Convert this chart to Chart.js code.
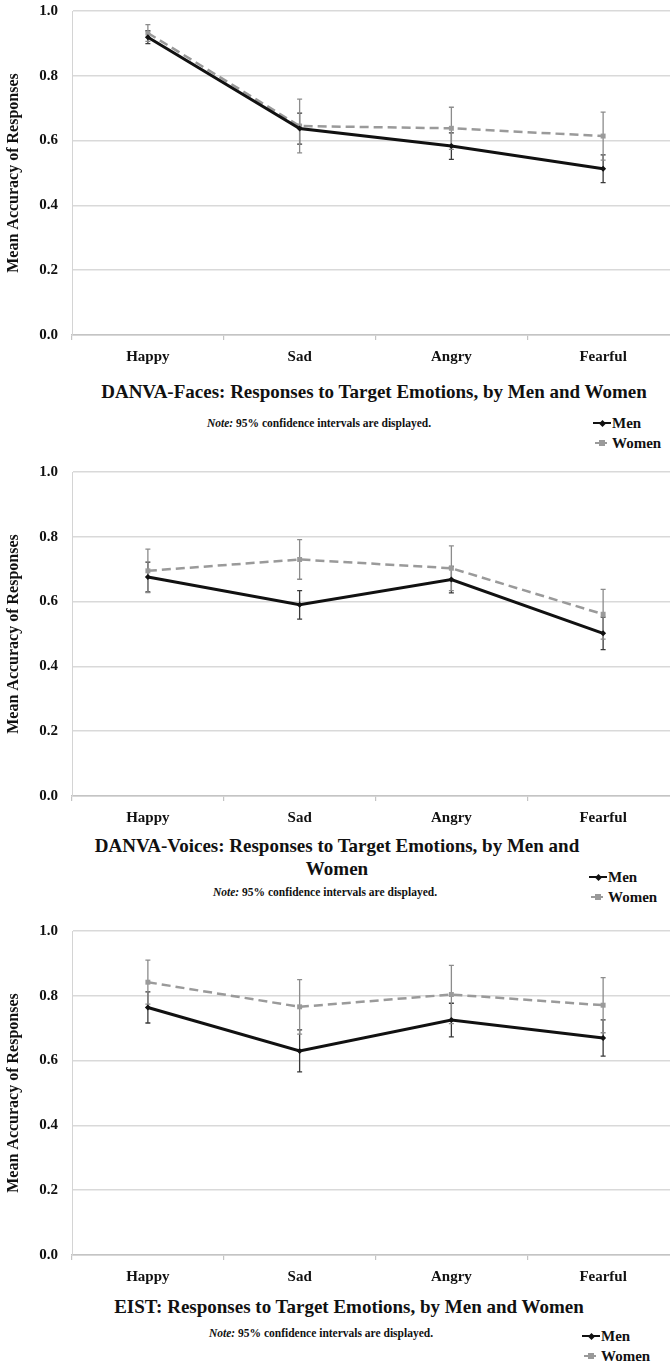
<!DOCTYPE html>
<html>
<head>
<meta charset="utf-8">
<script src="https://cdn.jsdelivr.net/npm/chart.js@4.4.1/dist/chart.umd.min.js"></script>
<style>
  html, body { margin: 0; padding: 0; background: #fff; }
  body { width: 670px; height: 1363px; overflow: hidden; position: relative;
         font-family: 'Liberation Serif', 'Times New Roman', serif; color: #111; }
  .panel { position: absolute; left: 0; width: 670px; height: 460px; overflow: hidden; }
  .panel canvas { position: absolute; left: 0; top: 0; }
  .title { position: absolute; font-weight: bold; font-size: 19px; line-height: 23px; text-align: center; }
  .note { position: absolute; font-weight: bold; font-size: 11.5px; line-height: 14px; white-space: nowrap; }
  .note i { font-style: italic; }
  .legend { position: absolute; font-weight: bold; font-size: 15px; line-height: 20px; }
  .legend .row { position: relative; height: 20px; padding-left: 19px; white-space: nowrap; }
  .legend .line { position: absolute; left: 0; top: 9px; width: 18px; height: 0; border-top-style: solid; }
  .legend .mark { position: absolute; }
</style>
</head>
<body>

<div class="panel" id="p1" style="top:0px;">
  <canvas id="c1" width="683" height="370"></canvas>
  <div class="title" style="left:74px; top:380px; width:600px;">DANVA-Faces: Responses to Target Emotions, by Men and Women</div>
  <div class="note" style="left:207px; top:416px;"><i>Note:</i> 95% confidence intervals are displayed.</div>
  <div class="legend" id="l1" style="left:593px; top:413px;"></div>
</div>

<div class="panel" id="p2" style="top:461px;">
  <canvas id="c2" width="683" height="370"></canvas>
  <div class="title" style="left:87px; top:373px; width:500px;">DANVA-Voices: Responses to Target Emotions, by Men and Women</div>
  <div class="note" style="left:213px; top:424px;"><i>Note:</i> 95% confidence intervals are displayed.</div>
  <div class="legend" id="l2" style="left:589px; top:406px;"></div>
</div>

<div class="panel" id="p3" style="top:920px; height:443px;">
  <canvas id="c3" width="683" height="370"></canvas>
  <div class="title" style="left:69px; top:375px; width:560px;">EIST: Responses to Target Emotions, by Men and Women</div>
  <div class="note" style="left:209px; top:406px;"><i>Note:</i> 95% confidence intervals are displayed.</div>
  <div class="legend" id="l3" style="left:582px; top:406px;"></div>
</div>

<script>
// Target emotions shown on every x axis
const categories = ['Happy', 'Sad', 'Angry', 'Fearful'];
const yTickValues = [0.0, 0.2, 0.4, 0.6, 0.8, 1.0];
const seriesNames = ['Men', 'Women'];

// DANVA-Faces: mean accuracy and 95% CI half-widths
const facesMen = [0.919, 0.637, 0.583, 0.513];
const facesMenCI = [0.020, 0.048, 0.041, 0.043];
const facesWomen = [0.932, 0.645, 0.638, 0.614];
const facesWomenCI = [0.026, 0.083, 0.065, 0.074];

// DANVA-Voices
const voicesMen = [0.676, 0.590, 0.668, 0.502];
const voicesMenCI = [0.046, 0.044, 0.041, 0.050];
const voicesWomen = [0.695, 0.730, 0.703, 0.561];
const voicesWomenCI = [0.067, 0.061, 0.069, 0.077];

// EIST
const eistMen = [0.764, 0.630, 0.725, 0.670];
const eistMenCI = [0.048, 0.065, 0.052, 0.056];
const eistWomen = [0.842, 0.766, 0.804, 0.771];
const eistWomenCI = [0.068, 0.084, 0.090, 0.085];

const serif = "'Liberation Serif', 'Times New Roman', serif";

// Draws the confidence-interval whiskers for each dataset using the chart scales
const errorBars = {
  id: 'errorBars',
  beforeDatasetsDraw(chart) {
    const { ctx, scales: { x, y } } = chart;
    ctx.save();
    chart.data.datasets.forEach((ds) => {
      if (!ds.ci) return;
      ctx.strokeStyle = ds.errorColor;
      ctx.lineWidth = 1.3;
      ds.data.forEach((v, i) => {
        const px = x.getPixelForValue(i);
        const top = y.getPixelForValue(v + ds.ci[i]);
        const bot = y.getPixelForValue(v - ds.ci[i]);
        ctx.beginPath();
        ctx.moveTo(px, top); ctx.lineTo(px, bot);
        ctx.moveTo(px - 2.5, top); ctx.lineTo(px + 2.5, top);
        ctx.moveTo(px - 2.5, bot); ctx.lineTo(px + 2.5, bot);
        ctx.stroke();
      });
    });
    ctx.restore();
  }
};

// Keep the plot box at fixed offsets: no extra room reserved for edge labels
function noEdgePadding(scale) {
  scale.paddingTop = 0;
  scale.paddingBottom = 0;
  scale.paddingLeft = 0;
  scale.paddingRight = 0;
}

function makeChart(canvasId, men, menCI, women, womenCI) {
  return new Chart(document.getElementById(canvasId), {
    type: 'line',
    data: {
      labels: categories,
      datasets: [
        { label: seriesNames[0], data: men, ci: menCI, errorColor: '#3a3a3a',
          borderColor: '#111', backgroundColor: '#111', borderWidth: 3,
          pointStyle: 'rectRot', pointRadius: 3, pointBorderWidth: 0, tension: 0 },
        { label: seriesNames[1], data: women, ci: womenCI, errorColor: '#8c8c8c',
          borderColor: '#9a9a9a', backgroundColor: '#9a9a9a', borderWidth: 2.5,
          borderDash: [9, 5], pointStyle: 'rect', pointRadius: 3.5, pointBorderWidth: 0, tension: 0 }
      ]
    },
    options: {
      responsive: false,
      animation: false,
      events: [],
      layout: { padding: { top: 11, right: 0, bottom: 0, left: 0 } },
      plugins: { legend: { display: false }, title: { display: false }, tooltip: { enabled: false } },
      scales: {
        x: {
          offset: true,
          grid: { offset: true, drawOnChartArea: false, drawTicks: true, tickLength: 5, color: '#c4c4c4', lineWidth: 1.2 },
          border: { display: true, color: '#c4c4c4', width: 1.5 },
          ticks: { padding: 8, color: '#111', font: { family: serif, size: 15, weight: 'bold' } },
          afterFit(scale) { scale.height = 35; noEdgePadding(scale); }
        },
        y: {
          min: 0, max: 1,
          afterBuildTicks(scale) { scale.ticks = yTickValues.map(v => ({ value: v })); },
          grid: { color: '#d9d9d9', lineWidth: 1.5, drawTicks: false },
          border: { display: true, color: '#d4d4d4', width: 1 },
          ticks: { padding: 14, color: '#111', callback: v => Number(v).toFixed(1),
                   font: { family: serif, size: 15, weight: 'bold' } },
          title: { display: true, text: 'Mean Accuracy of Responses', color: '#111',
                   font: { family: serif, size: 16, weight: 'bold' }, padding: { top: 4, bottom: 0 } },
          afterFit(scale) { scale.width = 72; noEdgePadding(scale); }
        }
      }
    },
    plugins: [errorBars]
  });
}

// Legend rows built from the chart's datasets
function buildLegend(chart, legendId) {
  const host = document.getElementById(legendId);
  chart.data.datasets.forEach((ds) => {
    const row = document.createElement('div');
    row.className = 'row';
    const line = document.createElement('span');
    line.className = 'line';
    line.style.borderTopColor = ds.borderColor;
    line.style.borderTopWidth = (ds.pointStyle === 'rect' ? 2 : 2.5) + 'px';
    if (ds.pointStyle === 'rect') { line.style.left = '2px'; line.style.width = '12px'; }
    const mark = document.createElement('span');
    mark.className = 'mark';
    const s = ds.pointStyle === 'rect' ? 6 : 5;
    mark.style.width = s + 'px';
    mark.style.height = s + 'px';
    mark.style.background = ds.backgroundColor;
    mark.style.left = (9 - s / 2) + 'px';
    mark.style.top = (10 - s / 2) + 'px';
    if (ds.pointStyle === 'rectRot') mark.style.transform = 'rotate(45deg)';
    row.appendChild(line);
    row.appendChild(mark);
    row.appendChild(document.createTextNode(ds.label));
    host.appendChild(row);
  });
}

const charts = [
  makeChart('c1', facesMen, facesMenCI, facesWomen, facesWomenCI),
  makeChart('c2', voicesMen, voicesMenCI, voicesWomen, voicesWomenCI),
  makeChart('c3', eistMen, eistMenCI, eistWomen, eistWomenCI)
];
buildLegend(charts[0], 'l1');
buildLegend(charts[1], 'l2');
buildLegend(charts[2], 'l3');
</script>
</body>
</html>
